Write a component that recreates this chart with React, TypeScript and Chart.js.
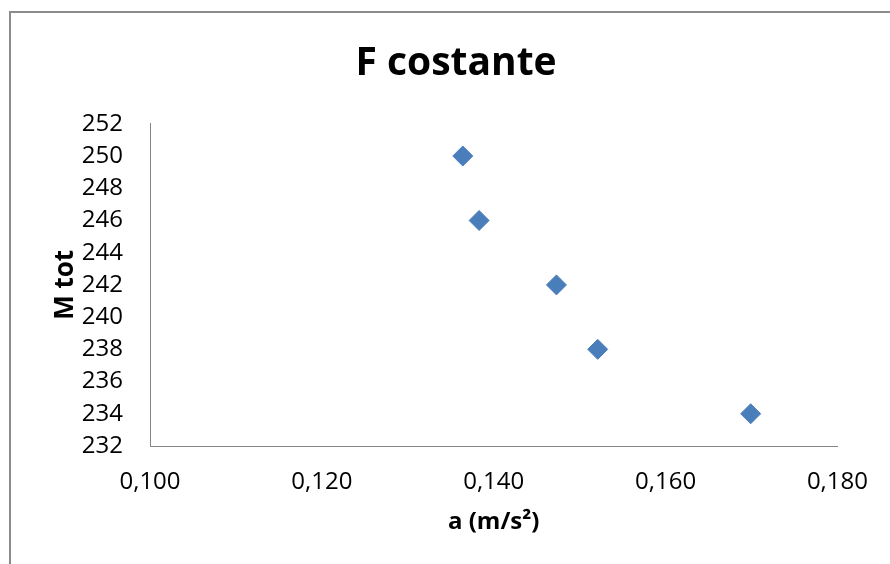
import React, { useEffect, useRef } from "react";
import { Chart, registerables } from "chart.js";

Chart.register(...registerables);

const chartTitle = "F costante";
const xAxisTitle = "a (m/s²)";
const yAxisTitle = "M tot";
const accel = [0.1364, 0.1383, 0.1473, 0.1521, 0.1699];
const massTot = [250, 246, 242, 238, 234];
const xMin = 0.1;
const xMax = 0.18;
const xStep = 0.02;
const yMin = 232;
const yMax = 252;
const yStep = 2;

export default function App() {
  const canvasRef = useRef<HTMLCanvasElement | null>(null);

  useEffect(() => {
    if (!canvasRef.current) return;
    const font = "'Open Sans', 'Liberation Sans', sans-serif";
    const axisColor = "#868686";
    const chart = new Chart(canvasRef.current, {
      type: "scatter",
      data: {
        datasets: [
          {
            label: yAxisTitle,
            data: accel.map((a, i) => ({ x: a, y: massTot[i] })),
            pointStyle: "rectRot",
            pointRadius: 10,
            pointHoverRadius: 10,
            backgroundColor: "#4A7EBB",
            borderColor: "#4A7EBB",
            borderWidth: 1,
            showLine: false,
          },
        ],
      },
      options: {
        responsive: false,
        animation: false,
        layout: { padding: { left: 22, right: 0, top: 12, bottom: 0 } },
        plugins: {
          legend: { display: false },
          tooltip: { enabled: false },
          title: {
            display: true,
            text: chartTitle,
            color: "#000",
            font: { family: font, size: 39, weight: "bold" },
            padding: { top: 28, bottom: 37 },
          },
        },
        scales: {
          x: {
            type: "linear",
            min: xMin,
            max: xMax,
            grid: { display: false, drawTicks: false },
            border: { display: true, color: axisColor, width: 1 },
            ticks: {
              stepSize: xStep,
              color: "#000",
              padding: 22,
              font: { family: font, size: 24 },
              callback: (v: any) => Number(v).toFixed(3).replace(".", ","),
            },
            title: {
              display: true,
              text: xAxisTitle,
              color: "#000",
              font: { family: font, size: 24, weight: "bold" },
              padding: { top: 0, bottom: 27 },
            },
            afterFit: (s: any) => {
              s.height = 118;
            },
          },
          y: {
            type: "linear",
            min: yMin,
            max: yMax,
            grid: { display: false, drawTicks: false },
            border: { display: true, color: axisColor, width: 1 },
            ticks: {
              stepSize: yStep,
              color: "#000",
              padding: 27,
              font: { family: font, size: 24 },
            },
            title: {
              display: true,
              text: yAxisTitle,
              color: "#000",
              font: { family: font, size: 26, weight: "bold" },
              padding: { top: 28, bottom: 0 },
            },
            afterFit: (s: any) => {
              s.width = 128;
            },
          },
          yRight: {
            type: "linear",
            position: "right",
            display: true,
            grid: { display: false, drawTicks: false },
            border: { display: false },
            ticks: { display: false },
            afterFit: (s: any) => {
              s.width = 52;
            },
          },
        },
      },
    });
    return () => chart.destroy();
  }, []);

  return (
    <div
      style={{
        position: "fixed",
        left: 0,
        top: 0,
        width: 890,
        height: 564,
        overflow: "hidden",
        background: "#fff",
      }}
    >
      <div
        style={{
          position: "absolute",
          left: 9,
          top: 11,
          width: 1000,
          height: 1000,
          borderLeft: "2px solid #8c8c8c",
          borderTop: "2px solid #8c8c8c",
        }}
      />
      <canvas
        ref={canvasRef}
        width={890}
        height={564}
        style={{ position: "absolute", left: 0, top: 0, width: 890, height: 564 }}
      />
    </div>
  );
}
